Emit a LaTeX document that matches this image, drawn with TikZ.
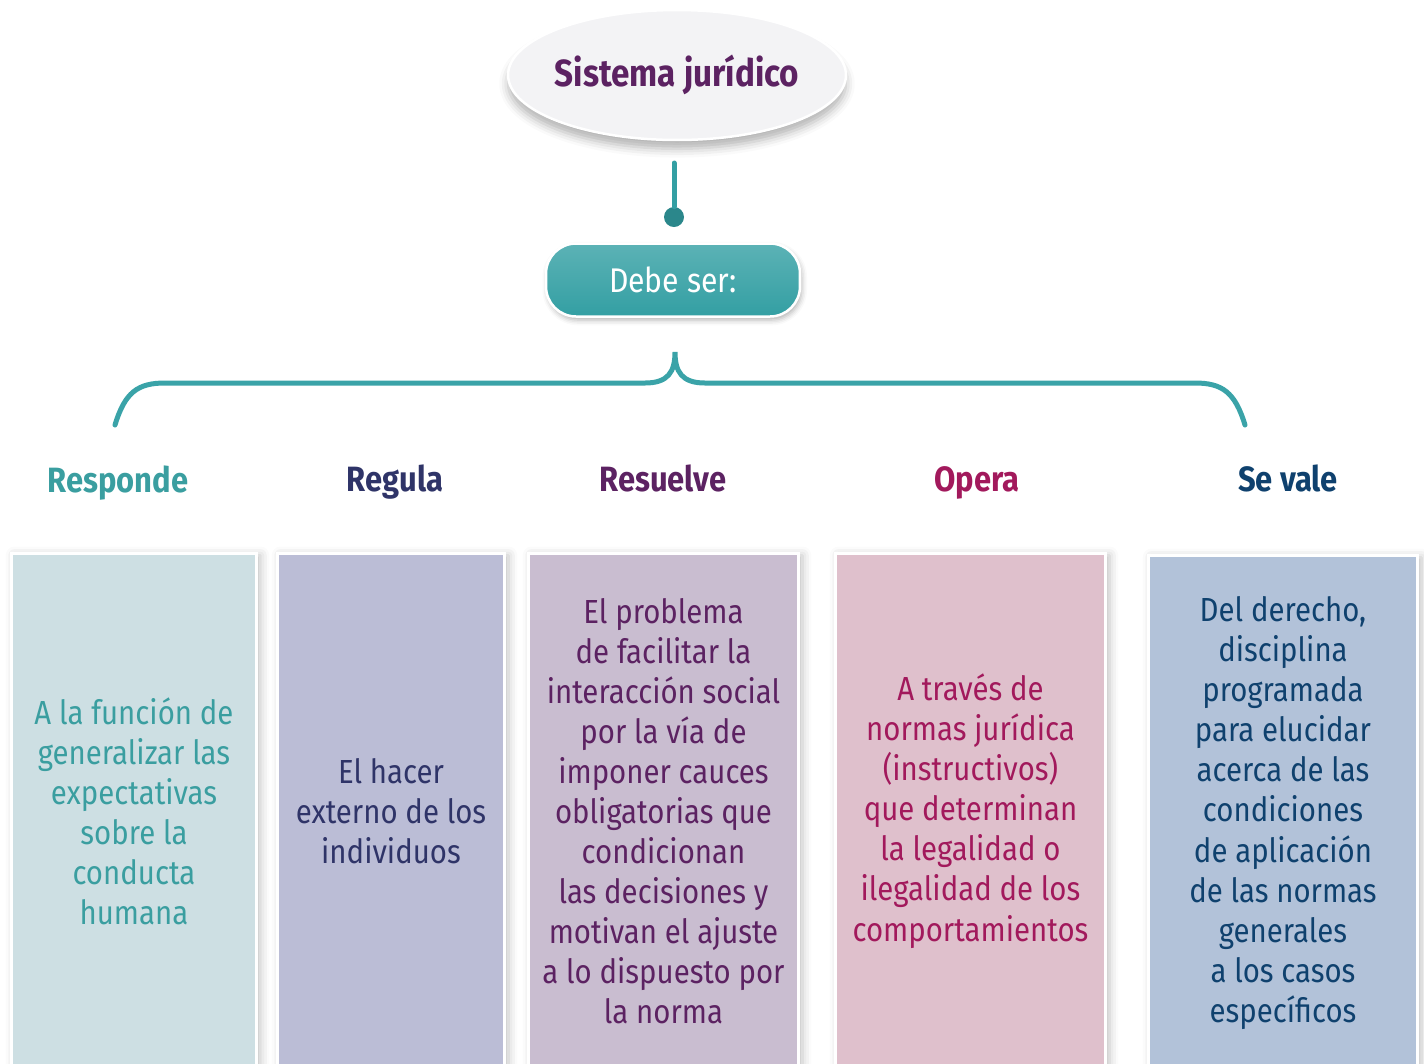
\documentclass[tikz,border=0pt]{standalone}
\usepackage{fontspec}
\setmainfont{Fira Sans}[FakeStretch=0.88]
\usetikzlibrary{shapes.geometric,shadows.blur}
\definecolor{tealt}{HTML}{3A9EA0}
\definecolor{navyt}{HTML}{2F3468}
\definecolor{purpt}{HTML}{5C2262}
\definecolor{magt}{HTML}{A2195C}
\definecolor{bluet}{HTML}{0F416E}
\definecolor{tealf}{HTML}{CDDFE3}
\definecolor{navyf}{HTML}{BBBDD6}
\definecolor{purpf}{HTML}{C9BDD0}
\definecolor{magf}{HTML}{DFC0CC}
\definecolor{bluef}{HTML}{B2C2D9}
\definecolor{bracec}{HTML}{3AA3A8}
\definecolor{btnc}{HTML}{339FA3}
\definecolor{ellc}{HTML}{F3F3F5}
\begin{document}
\begin{tikzpicture} [x=0.02cm,y=-0.02cm,
  sje/.style={ellipse, fill=ellc, draw=white, line width=0.5mm, minimum width=6.76cm, minimum height=2.6cm, blur shadow={shadow opacity=30,shadow xshift=0pt,shadow yshift=-5pt,shadow blur radius=5pt}, text=purpt, font=\fontsize{21.5}{26}\selectfont\bfseries},
  btn/.style={rectangle, rounded corners=0.6cm, draw=white, line width=0.5mm, top color=btnc!80!white, bottom color=btnc, minimum width=5.08cm, minimum height=1.46cm, blur shadow={shadow opacity=30,shadow xshift=1pt,shadow yshift=-2pt,shadow blur radius=3pt}, text=white, font=\fontsize{19.5}{24}\selectfont},
  head/.style={anchor=base, font=\fontsize{20}{24}\selectfont\bfseries},
  colb/.style={rectangle, draw=white, line width=0.6mm, minimum height=10.3cm, blur shadow={shadow opacity=25,shadow xshift=2pt,shadow yshift=-1pt,shadow blur radius=5pt}, align=center, font=\fontsize{19}{22.8}\selectfont},
  brace/.style={draw=bracec, line width=1mm, line cap=round}]
  \useasboundingbox (0,0) rectangle (1424,1063);

  \node[sje] (sj) at (677,75) {\makebox[4cm]{Sistema jurídico}};
  \coordinate (st) at (674,163);
  \node[circle, fill=btnc!85!black, inner sep=0pt, minimum size=0.4cm] (dot) at (674,217) {};
  \draw[line width=1mm, btnc, line cap=round] (st) -- (dot);
  \node[btn] (debe) at (673,280) {Debe ser:};

  \coordinate (bl) at (115,425);
  \coordinate (bt) at (675,352);
  \coordinate (br) at (1245,425);
  \draw[brace] (bl) .. controls (125,392) and (138,383) .. (165,383) -- (645,383)
    .. controls (668,383) and (675,372) .. (bt)
    .. controls (675,372) and (682,383) .. (705,383) -- (1195,383)
    .. controls (1222,383) and (1235,392) .. (br);

  \node[head, text=tealt] (h1) at (118,492) {Responde};
  \node[head, text=navyt] (h2) at (395,491) {Regula};
  \node[head, text=purpt] (h3) at (663,491) {Resuelve};
  \node[head, text=magt] (h4) at (977,491) {Opera};
  \node[head, text=bluet] (h5) at (1288,491) {Se vale};

  \node[colb, fill=tealf, text=tealt, minimum width=4.92cm] (b1) at (134,811) {A la función de\\generalizar las\\expectativas\\sobre la\\conducta\\humana};
  \node[colb, fill=navyf, text=navyt, minimum width=4.56cm] (b2) at (391,811) {El hacer\\externo de los\\individuos};
  \node[colb, fill=purpf, text=purpt, minimum width=5.42cm] (b3) at (663.5,811) {El problema\\de facilitar la\\interacción social\\por la vía de\\imponer cauces\\obligatorias que\\condicionan\\las decisiones y\\motivan el ajuste\\a lo dispuesto por\\la norma};
  \node[colb, fill=magf, text=magt, minimum width=5.42cm] (b4) at (970.5,811) {A través de\\normas jurídica\\(instructivos)\\que determinan\\la legalidad o\\ilegalidad de los\\comportamientos};
  \node[colb, fill=bluef, text=bluet, minimum width=5.4cm] (b5) at (1283,813) {Del derecho,\\disciplina\\programada\\para elucidar\\acerca de las\\condiciones\\de  aplicación\\de las normas\\generales\\a los casos\\específicos};

\end{tikzpicture}
\end{document}
